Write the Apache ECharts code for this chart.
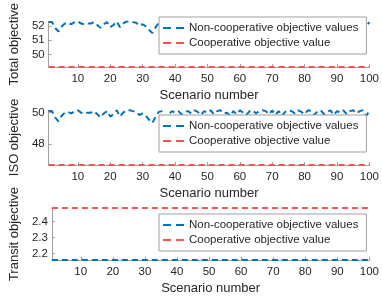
<!DOCTYPE html>
<html><head><meta charset="utf-8">
<script src="https://cdn.jsdelivr.net/npm/echarts@6/dist/echarts.min.js"></script>
<style>html,body{margin:0;padding:0;background:#fff}#c{width:382px;height:296px}</style>
</head><body><div id="c"></div>
<script>
const scenarios = Array.from({length:100},(_,i)=>i+1);
const totalNonCoop = [52.26,52.26,51.86,51.61,51.96,52.16,52.21,52.11,52.26,52.31,
52.16,52.11,52.16,52.16,52.26,52.06,51.86,52.11,52.26,51.91,
52.06,52.31,51.91,52.16,52.31,52.31,52.26,52.21,52.01,52.11,
51.96,51.71,51.51,51.91,52.21,52.26,51.81,52.01,52.26,52.16,
52.26,52.06,52.21,52.26,52.11,52.31,52.21,52.01,52.26,52.16,
52.31,52.06,52.26,52.31,52.11,52.16,51.96,52.26,52.06,52.31,
52.16,52.01,52.26,52.31,52.11,52.26,52.31,52.26,52.06,52.31,
52.01,52.26,51.96,52.21,52.31,52.26,52.11,52.31,52.21,52.06,
52.31,52.26,52.01,52.26,52.31,52.06,52.21,52.31,52.01,52.26,
52.16,52.31,52.06,52.26,52.31,52.11,52.26,52.31,51.96,52.26];
const isoNonCoop = [50.1,50.1,49.7,49.45,49.8,50.0,50.05,49.95,50.1,50.15,
50.0,49.95,50.0,50.0,50.1,49.9,49.7,49.95,50.1,49.75,
49.9,50.15,49.75,50.0,50.15,50.15,50.1,50.05,49.85,49.95,
49.8,49.55,49.35,49.75,50.05,50.1,49.65,49.85,50.1,50.0,
50.1,49.9,50.05,50.1,49.95,50.15,50.05,49.85,50.1,50.0,
50.15,49.9,50.1,50.15,49.95,50.0,49.8,50.1,49.9,50.15,
50.0,49.85,50.1,50.15,49.95,50.1,50.15,50.1,49.9,50.15,
49.85,50.1,49.8,50.05,50.15,50.1,49.95,50.15,50.05,49.9,
50.15,50.1,49.85,50.1,50.15,49.9,50.05,50.15,49.85,50.1,
50.0,50.15,49.9,50.1,50.15,49.95,50.1,50.15,49.8,50.1];
const transitNonCoop = [2.16];
const totalCoop = [49.15];
const isoCoop = [46.67];
const transitCoop = [2.483];
const panelNames = ['Total objective','ISO objective','Transit objective'];
const seriesNames = ['Non-cooperative objective values','Cooperative objective value'];
const xTicks = [10,20,30,40,50,60,70,80,90,100];
const yTicks = [[50,51,52],[48,50],[2.2,2.3,2.4]];
const yRanges = [[49.15,52.31],[46.67,50.17],[2.16,2.483]];

const BLUE='#0072BD', RED='#ff5050', AX='#a0a0a0', TXT='#262626';
const FONT='Liberation Sans, Arial, Helvetica, sans-serif';
const tops=[13,110,208], hgt=[54,55,54];
const DASH_ICON='path://M0,0h8v2h-8zM13,0h8v2h-8z';

const grid=[],xAxis=[],yAxis=[],series=[],legend=[];
function line(data){return scenarios.map((s,i)=>[s,data[i]]);}
function flat(v){return [[scenarios[0],v],[scenarios[scenarios.length-1],v]];}
const nonCoop=[line(totalNonCoop),line(isoNonCoop),flat(transitNonCoop[0])];
const coop=[flat(totalCoop[0]),flat(isoCoop[0]),flat(transitCoop[0])];
for(let k=0;k<3;k++){
  grid.push({left:36,right:9,top:tops[k],height:hgt[k]});
  xAxis.push({type:'value',gridIndex:k,min:1,max:100,
    name:'Scenario number',nameLocation:'middle',nameGap:22,
    nameTextStyle:{fontSize:13,color:TXT,fontFamily:FONT},
    axisLine:{lineStyle:{color:AX,width:1}},
    axisTick:{inside:true,length:3,lineStyle:{color:AX},customValues:xTicks},
    axisLabel:{fontSize:11.5,color:TXT,fontFamily:FONT,margin:6,customValues:xTicks},
    splitLine:{show:false}});
  yAxis.push({type:'value',gridIndex:k,min:yRanges[k][0],max:yRanges[k][1],
    name:panelNames[k],nameLocation:'middle',nameGap:26,
    nameTextStyle:{fontSize:13,color:TXT,fontFamily:FONT},
    axisLine:{show:true,lineStyle:{color:AX,width:1}},
    axisTick:{show:true,inside:true,length:3,lineStyle:{color:AX},customValues:yTicks[k]},
    axisLabel:{fontSize:11.5,color:TXT,fontFamily:FONT,margin:4,customValues:yTicks[k]},
    splitLine:{show:false}});
  series.push({name:seriesNames[0],type:'line',xAxisIndex:k,yAxisIndex:k,data:nonCoop[k],
    symbol:'none',color:BLUE,lineStyle:{color:BLUE,width:2,type:[6,4]},animation:false});
  series.push({name:seriesNames[1],type:'line',xAxisIndex:k,yAxisIndex:k,data:coop[k],
    symbol:'none',color:RED,lineStyle:{color:RED,width:2,type:[6,4]},animation:false});
}
const legTops=[17,115,214];
for(let k=0;k<3;k++){
  legend.push({data:seriesNames.map(n=>({name:n,icon:DASH_ICON})),orient:'vertical',left:159,top:legTops[k],
    itemWidth:21,itemHeight:2,itemGap:3,padding:[5,8,5,4],
    backgroundColor:'#fff',borderColor:'#a0a0a0',borderWidth:1,borderRadius:0,
    textStyle:{fontSize:11.5,color:TXT,fontFamily:FONT,padding:[0,0,0,0]},
    selectedMode:false});
}
const chart=echarts.init(document.getElementById('c'),null,{renderer:'canvas'});
chart.setOption({animation:false,grid,xAxis,yAxis,series,legend});
</script></body></html>
